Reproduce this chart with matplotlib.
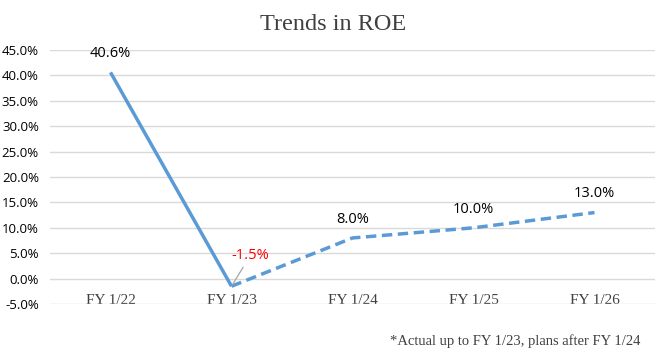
import numpy as np
import matplotlib.pyplot as plt

years = ["FY 1/22", "FY 1/23", "FY 1/24", "FY 1/25", "FY 1/26"]
roe = [40.6, -1.5, 8.0, 10.0, 13.0]
yticks = [-5, 0, 5, 10, 15, 20, 25, 30, 35, 40, 45]

blue = "#5B9BD5"
serif = ["Liberation Serif", "DejaVu Serif"]
sans = ["Open Sans", "DejaVu Sans"]

fig = plt.figure(figsize=(6.7, 3.61), dpi=100)
ax = fig.add_axes([50 / 670, 1 - 304 / 361, 605 / 670, 254 / 361])
x = np.arange(len(years))

# actual (solid) and plan (dashed)
ax.plot(x[:2], roe[:2], color=blue, lw=2.5, solid_capstyle="butt")
ax.plot(x[1:], roe[1:], color=blue, lw=2.5, ls=(0, (3, 1.6)))

ax.set_xlim(-0.5, 4.5)
ax.set_ylim(-5, 45)
ax.set_yticks(yticks)
ax.set_yticklabels([f"{v:.1f}%" for v in yticks], fontsize=9.5, family=sans)
ax.set_xticks(x)
ax.set_xticklabels(years, fontsize=11, family=serif, color="#404040")
ax.tick_params(axis="x", length=0, pad=-7)
ax.tick_params(axis="y", length=0, pad=8)
ax.grid(axis="y", color="#D9D9D9", lw=1)
ax.set_axisbelow(True)
for s in ax.spines.values():
    s.set_visible(False)

for i, v in enumerate(roe):
    if i == 1:
        continue
    ax.annotate(f"{v:.1f}%", (i, v), xytext=(0, 13.5), textcoords="offset points",
                ha="center", va="center", fontsize=10.5, family=sans)
ax.annotate(f"{roe[1]:.1f}%", (1, roe[1]), xytext=(13.5, 22), textcoords="offset points",
            ha="center", va="center", fontsize=10.5, family=sans, color="red",
            arrowprops=dict(arrowstyle="-", color="#A6A6A6", lw=0.9,
                            shrinkA=1, shrinkB=1.5))

fig.text(333 / 670, 1 - 25 / 361, "Trends in ROE", ha="center", va="center",
         fontsize=17.5, family=serif, color="#404040")
fig.text(640 / 670, 1 - 341 / 361, "*Actual up to FY 1/23, plans after FY 1/24",
         ha="right", va="center", fontsize=10.5, family=serif, color="#404040")

fig.savefig("out.png", dpi=100)
